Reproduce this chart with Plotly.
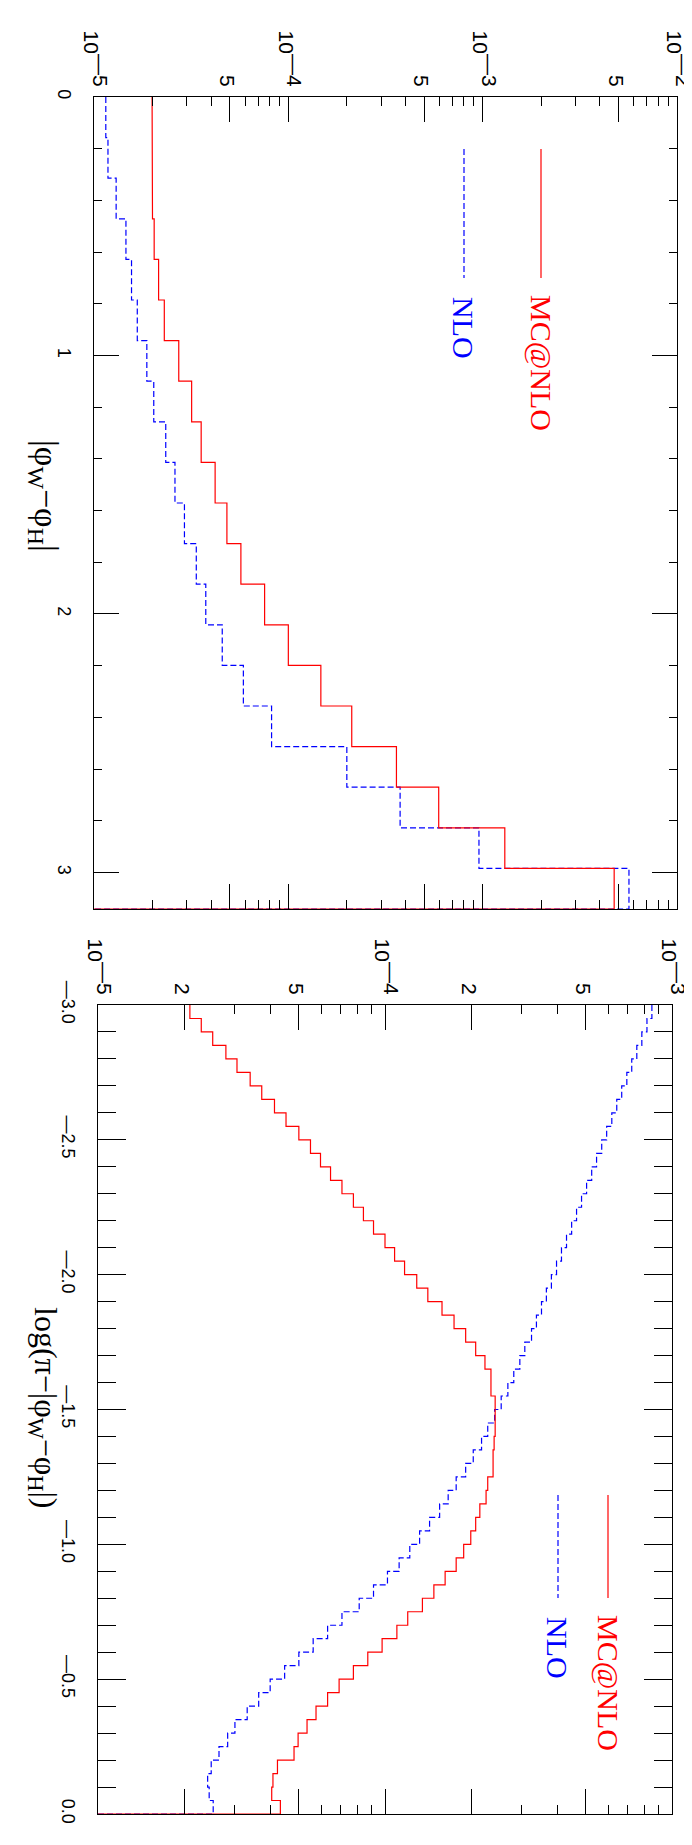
import numpy as np
import plotly.graph_objects as go

W, H = 692, 1845

# ---------------- data: top panel, |phi_W - phi_H| in [0, pi], 20 bins
top_n_bins = 20
top_mcnlo = [1.99e-5, 2.0e-5, 2.0e-5, 2.04e-5, 2.15e-5, 2.3e-5, 2.73e-5, 3.18e-5, 3.56e-5, 4.2e-5,
             4.83e-5, 5.7e-5, 7.55e-5, 1.0e-4, 1.47e-4, 2.12e-4, 3.6e-4, 5.94e-4, 1.3e-3, 4.75e-3]
top_nlo = [1.15e-5, 1.18e-5, 1.30e-5, 1.46e-5, 1.56e-5, 1.67e-5, 1.87e-5, 2.03e-5, 2.34e-5, 2.61e-5,
           2.92e-5, 3.36e-5, 3.76e-5, 4.57e-5, 5.87e-5, 8.2e-5, 2.0e-4, 3.76e-4, 9.57e-4, 5.66e-3]

# ---------------- data: bottom panel, log(pi - |phi_W - phi_H|) in [-3, 0], 60 bins
bot_lo, bot_hi, bot_n_bins = -3.0, 0.0, 60
bot_mcnlo = [2.09e-5, 2.29e-5, 2.51e-5, 2.79e-5, 3.05e-5, 3.39e-5, 3.72e-5, 4.12e-5, 4.52e-5, 5.01e-5,
             5.50e-5, 5.96e-5, 6.46e-5, 7.08e-5, 7.76e-5, 8.41e-5, 9.12e-5, 1.00e-4, 1.08e-4, 1.17e-4,
             1.29e-4, 1.41e-4, 1.58e-4, 1.74e-4, 1.91e-4, 2.07e-4, 2.23e-4, 2.34e-4, 2.34e-4, 2.42e-4,
             2.42e-4, 2.42e-4, 2.40e-4, 2.38e-4, 2.38e-4, 2.28e-4, 2.25e-4, 2.14e-4, 2.07e-4, 1.99e-4,
             1.88e-4, 1.77e-4, 1.62e-4, 1.48e-4, 1.35e-4, 1.20e-4, 1.10e-4, 9.77e-5, 8.71e-5, 7.76e-5,
             6.92e-5, 6.31e-5, 5.75e-5, 5.35e-5, 4.98e-5, 4.82e-5, 4.22e-5, 4.07e-5, 4.03e-5, 4.32e-5]
bot_nlo = [8.51e-4, 8.18e-4, 7.85e-4, 7.54e-4, 7.24e-4, 6.96e-4, 6.68e-4, 6.42e-4, 6.17e-4, 5.92e-4,
           5.69e-4, 5.46e-4, 5.25e-4, 5.04e-4, 4.84e-4, 4.65e-4, 4.47e-4, 4.29e-4, 4.12e-4, 3.96e-4,
           3.80e-4, 3.65e-4, 3.51e-4, 3.37e-4, 3.24e-4, 3.07e-4, 2.95e-4, 2.81e-4, 2.68e-4, 2.54e-4,
           2.41e-4, 2.28e-4, 2.17e-4, 2.03e-4, 1.91e-4, 1.77e-4, 1.66e-4, 1.55e-4, 1.43e-4, 1.32e-4,
           1.22e-4, 1.12e-4, 1.02e-4, 9.12e-5, 8.13e-5, 7.08e-5, 6.31e-5, 5.62e-5, 5.01e-5, 4.47e-5,
           3.98e-5, 3.63e-5, 3.31e-5, 3.00e-5, 2.83e-5, 2.64e-5, 2.48e-5, 2.41e-5, 2.44e-5, 2.52e-5]

SUP = '10<sup><span style="font-size:21px">\u2014%d</span></sup>'
top_log_ticks = [1e-5, 5e-5, 1e-4, 5e-4, 1e-3, 5e-3, 1e-2]
top_log_text = [SUP % 5, "5", SUP % 4, "5", SUP % 3, "5", SUP % 2]
bot_log_ticks = [1e-5, 2e-5, 5e-5, 1e-4, 2e-4, 5e-4, 1e-3]
bot_log_text = [SUP % 5, "2", "5", SUP % 4, "2", "5", SUP % 3]
top_lin_ticks = [0, 1, 2, 3]
top_lin_text = ["0", "1", "2", "3"]
bot_lin_ticks = [-3.0, -2.5, -2.0, -1.5, -1.0, -0.5, 0.0]
bot_lin_text = ["\u20143.0", "\u20142.5", "\u20142.0", "\u20141.5", "\u20141.0", "\u20140.5", "0.0"]

RED = "#ff0000"
BLUE = "#0000ff"
DASH = "6px,3px"


def steps(edges, vals, floor):
    xs, ys = [], []
    for i, v in enumerate(vals):
        xs += [v, v]
        ys += [edges[i], edges[i + 1]]
    xs.append(floor)
    ys.append(edges[-1])
    return xs, ys


top_edges = np.linspace(0, np.pi, top_n_bins + 1)
bot_edges = np.linspace(bot_lo, bot_hi, bot_n_bins + 1)

fig = go.Figure()
for vals, col, dash, xa, ya, edges in [
    (top_nlo, BLUE, True, "x", "y", top_edges),
    (top_mcnlo, RED, False, "x", "y", top_edges),
    (bot_nlo, BLUE, True, "x2", "y2", bot_edges),
    (bot_mcnlo, RED, False, "x2", "y2", bot_edges),
]:
    xs, ys = steps(edges, vals, 1e-6)
    fig.add_trace(go.Scatter(x=xs, y=ys, mode="lines", xaxis=xa, yaxis=ya,
                             line=dict(color=col, width=1.2, dash=DASH if dash else "solid"),
                             hoverinfo="skip"))


def xd(a, b):
    return [a / W, b / W]


def yd(top, bottom):
    return [1 - bottom / H, 1 - top / H]


tickfont_log = dict(family="Liberation Sans", size=21, color="black")
tickfont_lin = dict(family="Liberation Sans", size=18, color="black")


def log_axis(domain, rng, tv, tt, anchor):
    minor_vals = [k * 10.0 ** e for e in range(-6, -1) for k in range(2, 10)]
    return dict(domain=domain, type="log", range=rng, side="top", anchor=anchor, automargin=False,
                showline=True, linecolor="black", linewidth=1, mirror="allticks",
                ticks="inside", ticklen=25, tickcolor="black", tickwidth=1,
                tickmode="array", tickvals=tv, ticktext=tt, tickangle=90,
                tickfont=tickfont_log, showgrid=False, zeroline=False, ticklabelstandoff=2,
                ticklabelshift=-3,
                minor=dict(ticks="inside", ticklen=9, tickcolor="black", tickwidth=1,
                           tickmode="array", tickvals=minor_vals, showgrid=False))


def lin_axis(domain, rng, tv, tt, anchor, mdt, mlen, majlen):
    return dict(domain=domain, range=rng, anchor=anchor, automargin=False,
                showline=True, linecolor="black", linewidth=1, mirror="allticks",
                ticks="inside", ticklen=majlen, tickcolor="black", tickwidth=1,
                tickmode="array", tickvals=tv, ticktext=tt, tickangle=90,
                tickfont=tickfont_lin, showgrid=False, zeroline=False, ticklabelstandoff=13,
                minor=dict(ticks="inside", ticklen=mlen, tickcolor="black", tickwidth=1,
                           dtick=mdt, showgrid=False))


fig.update_layout(
    width=W, height=H, margin=dict(l=0, r=0, t=0, b=0, autoexpand=False),
    paper_bgcolor="white", plot_bgcolor="white", showlegend=False,
    xaxis=log_axis(xd(86, 669), [-5, -2], top_log_ticks, top_log_text, "y"),
    yaxis=lin_axis(yd(89, 901), [np.pi, 0], top_lin_ticks, top_lin_text, "x", 0.2, 8, 25),
    xaxis2=log_axis(xd(90, 664), [-5, -3], bot_log_ticks, bot_log_text, "y2"),
    yaxis2=lin_axis(yd(997, 1806), [0.0, -3.0], bot_lin_ticks, bot_lin_text, "x2", 0.1, 18, 28),
)

# axis titles
for yc, txt, fs in [(488, "|\u03c6<sub>W</sub>\u2212\u03c6<sub>H</sub>|", 34),
                    (1400, "log(\u03c0\u2212|\u03c6<sub>W</sub>\u2212\u03c6<sub>H</sub>|)", 32)]:
    fig.add_annotation(x=36 / W, y=1 - yc / H, xref="paper", yref="paper", showarrow=False, textangle=90,
                       xanchor="center", yanchor="middle", text=txt,
                       font=dict(family="Liberation Serif", size=fs, color="black"))

# legends
for xc, y0, y1, ty, txt, col, dash in [
    (533, 141, 270, 355, "MC@NLO", RED, False),
    (456, 141, 270, 320, "NLO", BLUE, True),
    (600, 1487, 1590, 1675, "MC@NLO", RED, False),
    (550, 1487, 1590, 1640, "NLO", BLUE, True),
]:
    fig.add_shape(type="line", xref="paper", yref="paper", x0=xc / W, x1=xc / W,
                  y0=1 - y0 / H, y1=1 - y1 / H,
                  line=dict(color=col, width=1.2, dash=DASH if dash else "solid"))
    fig.add_annotation(x=xc / W, y=1 - ty / H, xref="paper", yref="paper", showarrow=False, textangle=90,
                       xanchor="center", yanchor="middle",
                       text=txt, font=dict(family="Liberation Serif", size=30, color=col))

fig.write_html("out.html")
